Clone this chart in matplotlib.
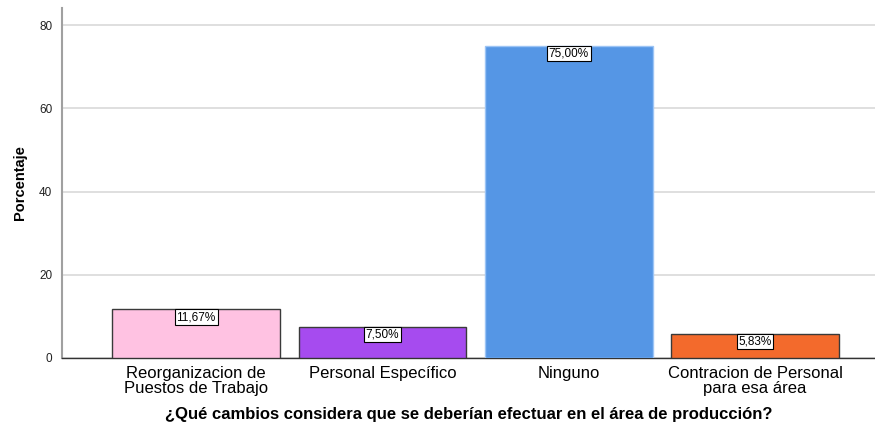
import matplotlib
matplotlib.use("Agg")
import matplotlib.pyplot as plt

categories = ["Reorganizacion de\nPuestos de Trabajo", "Personal Específico", "Ninguno",
              "Contracion de Personal\npara esa área"]
values = [11.67, 7.50, 75.00, 5.83]
labels = ["11,67%", "7,50%", "75,00%", "5,83%"]
yticks = [0, 20, 40, 60, 80]
colors = ["#FFC2E2", "#A64BEF", "#5596E5", "#F36A2C"]
edges = ["#3a3a3a", "#3a3a3a", "#9cc4f5", "#3a3a3a"]

plt.rcParams['font.family'] = ['Liberation Sans', 'DejaVu Sans']

fig = plt.figure(figsize=(8.75, 4.25), dpi=100)
ax = fig.add_axes([62/875, 1-358/425, 1-62/875, 350/425])

x = list(range(len(categories)))
ax.bar(x, values, width=0.9, color=colors, edgecolor=edges, linewidth=1.0, zorder=3)
for xi, v, lab in zip(x, values, labels):
    ax.text(xi, v - 0.4, lab, ha='center', va='top', fontsize=8.5, zorder=4,
            bbox=dict(boxstyle='square,pad=0.15', facecolor='white', edgecolor='black', linewidth=0.8))

ax.set_xlim(-0.72, 3.644)
ax.set_ylim(0, 84.1)
ax.set_yticks(yticks)
ax.set_yticklabels([str(t) for t in yticks], fontsize=8.5, color='#222222')
ax.set_xticks(x)
ax.set_xticklabels(categories, fontsize=12, linespacing=0.95)
ax.tick_params(axis='x', length=0, pad=6)
ax.tick_params(axis='y', length=0, pad=7)
ax.grid(axis='y', color='#d9d9d9', linewidth=1.2, zorder=0)
for s in ['top', 'right']:
    ax.spines[s].set_visible(False)
ax.spines['left'].set_color('#a0a0a0')
ax.spines['left'].set_linewidth(1.5)
ax.spines['bottom'].set_color('#333333')
ax.spines['bottom'].set_linewidth(1.0)
ax.set_ylabel("Porcentaje", fontsize=10.5, fontweight='bold', labelpad=9)
ax.set_xlabel("¿Qué cambios considera que se deberían efectuar en el área de producción?",
              fontsize=12, fontweight='bold', labelpad=8)

fig.savefig("out.png", dpi=100)
